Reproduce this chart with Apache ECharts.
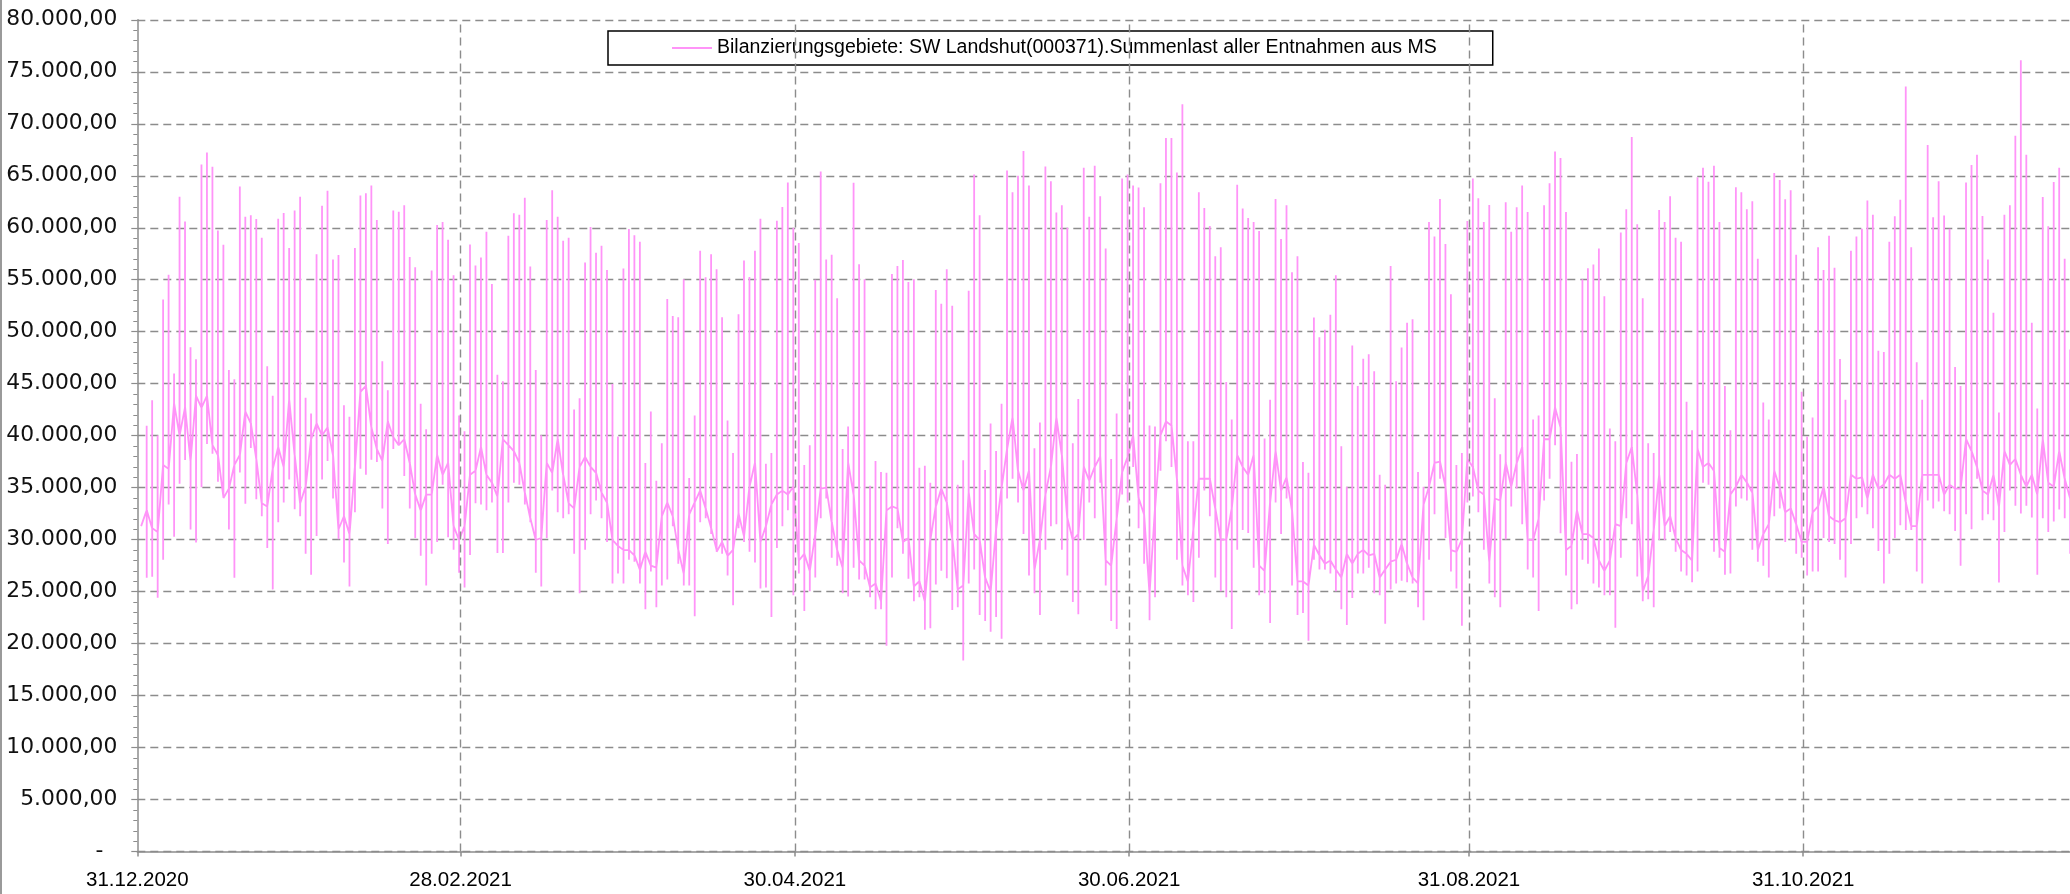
<!DOCTYPE html>
<html><head><meta charset="utf-8">
<script src="https://cdn.jsdelivr.net/npm/echarts@6/dist/echarts.min.js"></script>
<style>html,body{margin:0;padding:0;background:#fff}#c{width:2070px;height:894px}</style>
</head><body><div id="c"></div>
<script>
const seriesName = 'Bilanzierungsgebiete: SW Landshut(000371).Summenlast aller Entnahmen aus MS';
// x axis in days since 31.12.2020
const xTickDays = [0, 59, 120, 181, 243, 304, 365];
const xTickLabels = ['31.12.2020', '28.02.2021', '30.04.2021', '30.06.2021', '31.08.2021', '31.10.2021', '31.12.2021'];
const yMin = 0, yMax = 80000, yStep = 5000;
// time of day (fraction) at which each daily reading sits
const readingOffset = 0.7;

// daily peak values
const dailyHigh = [
31300,40950,43420,40020,53110,55470,45990,62970,60610,48510,
47360,66090,67240,65870,59740,58370,46320,45440,63960,61050,
61210,60830,59040,46690,43840,60860,61430,58050,61660,62990,
43650,42130,57440,62120,63560,56950,57370,42930,41830,58050,
63110,63330,64060,60750,47150,44370,61660,61550,62160,57180,
56190,43080,40610,55890,60260,60560,58850,55430,41940,40420,
58390,56380,57140,59610,54590,45850,45240,59230,61400,61250,
62880,56270,46310,40040,60750,63600,61060,58740,59040,42510,
43610,56650,60070,57600,58280,55930,44980,39930,56080,59880,
59270,58660,37380,42320,35670,39280,53150,51520,51400,55050,
35940,41940,57790,55240,57440,56000,51400,41450,38330,51670,
56840,55270,57790,60860,37300,38330,60670,62000,64360,59990,
58540,37190,39090,55010,65420,56950,57400,53220,38710,40880,
64320,56490,55050,35180,37570,36510,36430,55540,56330,56910,
54780,55050,36920,37110,35480,54020,52690,56000,52500,35290,
37650,53940,65120,61210,36700,41180,38520,43080,65500,63410,
65010,67370,64060,38790,41260,65880,64470,61470,62160,59990,
39280,43540,65770,61060,65960,63030,58010,37760,42130,64740,
65120,64060,63870,61970,40990,40880,64280,68620,68620,65310,
71880,39470,39470,63410,61890,60180,57250,58130,45170,41560,
64130,61850,60940,60560,59690,39740,43460,62760,58930,62160,
55730,57250,37460,36430,51360,49460,50180,51630,55430,38980,
35100,48670,44790,47410,47830,46200,36240,35290,56330,45240,
48480,50870,51210,36510,35100,60560,59150,62760,58430,53610,
37190,38330,60640,64740,62840,60560,62190,43610,38210,62460,
59610,61960,64060,61510,41560,41940,62160,64280,67330,66720,
61510,37500,38250,55050,56110,56460,58010,53420,40690,39470,
59540,61770,68730,60330,53220,39280,38330,61700,60560,63030,
59040,58660,43270,40530,64850,65770,64430,65960,60560,44790,
40530,63900,63410,61770,62540,57030,43200,41560,65270,64590,
62730,63600,57400,44220,39930,41750,58130,55930,59230,56150,
47370,43460,57790,59150,59910,62610,61250,48170,48060,58660,
61100,62690,73590,58130,47070,43460,67970,61020,64470,61170,
59910,46610,44790,64360,66030,67020,61130,56950,51820,42240,
61250,62160,68840,76100,67020,50870,42620,62950,60140,64400,
65770,57030,48290
];
// daily minimum values
const dailyLow = [
31300,26330,26440,24410,28080,33390,30270,35370,37670,30990,
29720,35040,39200,38270,35580,34000,30990,26330,36460,33450,
38820,33890,32250,29210,25220,31680,33580,35780,32930,32250,
28640,26630,30350,35780,37570,33960,30050,27800,25490,32630,
36810,36240,37680,37460,33010,29590,38710,39090,36130,33010,
30160,28450,25600,28640,29780,35290,30240,29020,26820,25410,
28530,33500,33390,32820,33580,28720,28720,33580,35480,35290,
33390,31680,26820,25490,30160,34720,32630,32060,32440,28640,
24840,29020,32440,33770,32060,29780,25790,26740,25790,28070,
27880,25790,23320,26930,23510,25600,26170,31300,27690,25600,
25600,22640,31680,32060,30540,28830,28640,26550,23700,31110,
29780,28830,27800,25300,25410,22560,29210,31300,32820,24650,
26740,23130,25030,26360,32060,33960,28260,27500,24840,24540,
27310,26170,26170,24460,23320,23320,19790,26360,31110,28640,
26250,24080,24460,21340,21490,25680,27000,26280,23240,23510,
18380,25790,27120,22750,22180,21150,22560,20470,33960,35860,
33580,30540,26550,24840,22750,29020,31300,31490,29020,26550,
24000,22830,29970,33580,32060,35480,25600,22180,21420,34340,
33580,37000,31110,27690,22260,24460,36620,39470,37000,28070,
25600,24650,24000,28260,34720,32250,26360,25030,24460,21420,
29020,30920,30650,27310,24650,24840,21990,33580,30540,33960,
25600,22750,22940,20280,28070,27120,27120,26740,25030,23320,
21800,24380,26740,26740,27310,24840,24650,21910,25220,25790,
26060,25910,25790,23510,22260,28070,32440,35860,30160,26930,
25300,21720,33580,34150,32630,29020,25790,24460,23510,30010,
33200,34910,31490,27120,26360,23130,33770,35860,39090,30620,
26550,23320,23780,28070,27690,25790,25410,24650,24650,21530,
28260,32060,31490,26470,24080,24270,23510,29970,29970,30730,
28830,26930,26550,25910,26930,35480,35290,28830,28260,26630,
26740,33200,33960,33770,29020,27880,27500,26360,32250,33010,
29780,29970,28640,28260,26550,26930,26930,30160,29780,29590,
28070,26360,29590,32060,33120,32440,31110,28910,25790,28640,
30160,31380,30920,30920,26930,25790,33770,33010,33660,32740,
32440,30840,27500,32440,31000,35860,31870,32440,31870,25870,
30730,34720,33270,32520,33270,32140,26630,32060,30730,31760,
32900,32060,28640
];
// base (night) level between the daily peaks
const dailyMid = [
31300,32820,31110,30730,37190,36810,43080,40040,42700,37570,
43840,42700,43840,39090,38140,34150,34910,37190,38140,42320,
41180,37760,33500,33200,36810,38900,37000,43460,38140,33500,
35100,39660,41180,40040,40800,38140,31000,32250,30540,37000,
44220,44790,40800,38710,37570,41370,39850,39090,39660,37380,
34340,32820,34340,34340,38140,36240,37380,31300,29970,31300,
36240,36620,38900,36240,35480,34150,39660,39090,38520,37380,
34530,32060,29970,30160,37380,36430,39660,36240,33500,33010,
37000,37950,37000,36430,34530,33580,29970,29400,29020,29000,
28500,27120,28830,27500,27310,32250,33580,32250,29020,26740,
32440,33580,34720,33000,31110,29020,29780,28450,29020,32500,
30350,35100,37380,29780,31300,33390,34340,34720,34340,35100,
28000,28640,27000,30540,34910,35000,31680,29000,27310,37380,
34340,28000,27500,25410,25790,24080,32820,33200,33000,29780,
30160,25500,26000,24080,30000,33200,34910,33580,30160,25220,
25600,34530,30540,29970,26360,25000,31000,35000,38710,41750,
36620,34720,36620,27120,30000,34340,37000,41750,38140,32060,
29970,30540,37000,35670,37000,38000,28000,27500,32000,36500,
37950,40040,34000,32440,24840,33000,40040,41370,40990,35860,
27500,25980,31000,35860,35860,35860,33000,30000,30000,33000,
38140,37000,36240,38140,27500,27000,33580,38520,34720,36000,
32820,25980,25980,25600,29500,28500,27690,28000,27120,26360,
28640,27690,28640,29020,28500,28640,26360,27120,27880,28070,
29590,27690,26360,25790,33390,35100,37380,37500,35100,29000,
28830,30000,37760,37000,34720,34340,27880,33960,33770,37380,
35100,37380,38900,30000,29970,32000,39660,39660,42700,40800,
29000,29400,32820,30540,30540,30160,28000,27000,28000,31490,
31300,37380,38900,34340,25000,26500,30920,36240,31300,32250,
30160,29000,28640,28000,38710,37000,37380,36620,29210,28830,
34340,35100,36240,35500,34530,29020,30540,31500,36620,35000,
32630,33010,31490,29780,29780,32630,33200,35100,32250,31870,
31680,32060,36240,35860,36000,33960,36240,34900,35300,36240,
35860,36240,33580,31300,31300,36240,36240,36240,36240,34340,
35290,34910,34910,39660,38520,37000,34720,34340,36240,33200,
38520,37190,37760,36240,35100,36240,34340,39660,35480,35100,
38520,35860,33960
];

// build the line: each day goes base -> peak -> minimum -> base
const points = [];
for (let i = 0; i < dailyHigh.length; i++) {
  const t = i + readingOffset;
  points.push([t, dailyMid[i]]);
  points.push([t + 0.01, dailyHigh[i]]);
  points.push([t + 0.02, dailyLow[i]]);
  points.push([t + 0.03, dailyMid[i]]);
}

function deNum(v) {
  if (v === 0) return '-  ';
  const s = Math.round(v).toString().replace(/\B(?=(\d{3})+(?!\d))/g, '.');
  return s + ',00';
}
function dayLabel(v) {
  const k = xTickDays.indexOf(Math.round(v));
  return k >= 0 ? xTickLabels[k] : '';
}

const lineColor = '#FF94F8';
const gridColor = '#8C8C8C';

const chart = echarts.init(document.getElementById('c'), null, {renderer: 'canvas'});
chart.setOption({
  animation: false,
  backgroundColor: '#ffffff',
  grid: {left: 137.3, top: 19.8, width: 2000.2, bottom: 42.4, containLabel: false, outerBoundsMode: 'none'},
  legend: {
    left: 608, top: 31,
    padding: [7, 56, 7, 64],
    borderColor: '#000', borderWidth: 1.5,
    icon: 'rect', itemWidth: 40, itemHeight: 2,
    textStyle: {fontFamily: 'Liberation Sans', fontSize: 19.5, color: '#000'},
    data: [{name: seriesName, itemStyle: {color: lineColor}}]
  },
  xAxis: {
    type: 'value', min: xTickDays[0], max: xTickDays[xTickDays.length - 1],
    axisLine: {show: true, onZero: false, lineStyle: {color: gridColor, width: 1.5}},
    axisTick: {show: true, length: 5, customValues: xTickDays, lineStyle: {color: gridColor, width: 1.5}},
    axisLabel: {
      customValues: xTickDays, formatter: dayLabel, margin: 18,
      fontFamily: 'Liberation Sans', fontSize: 20.5, color: '#000'
    },
    splitLine: {show: false}
  },
  yAxis: {
    type: 'value', min: yMin, max: yMax, interval: yStep,
    axisLine: {show: true, lineStyle: {color: gridColor, width: 1.5}},
    axisTick: {show: true, length: 6, lineStyle: {color: gridColor, width: 1.2}},
    minorTick: {show: true, splitNumber: 5, length: 4, lineStyle: {color: gridColor, width: 1}},
    axisLabel: {formatter: deNum, margin: 20, fontFamily: 'DejaVu Sans', fontSize: 21.8, color: '#111'},
    splitLine: {show: true, lineStyle: {color: gridColor, width: 1.4, type: [8, 5]}}
  },
  series: [{
    name: seriesName,
    type: 'line',
    data: points,
    showSymbol: false,
    symbol: 'none',
    lineStyle: {color: lineColor, width: 1.8},
    itemStyle: {color: lineColor},
    markLine: {
      silent: true, symbol: 'none', label: {show: false},
      lineStyle: {color: gridColor, width: 1.4, type: [8, 5]},
      data: xTickDays.slice(1, -1).map(d => ({xAxis: d}))
    }
  }],
  graphic: [{
    type: 'line', shape: {x1: 1, y1: 0, x2: 1, y2: 894},
    style: {stroke: '#9a9a9a', lineWidth: 2}, silent: true
  }]
});
</script>
</body></html>
